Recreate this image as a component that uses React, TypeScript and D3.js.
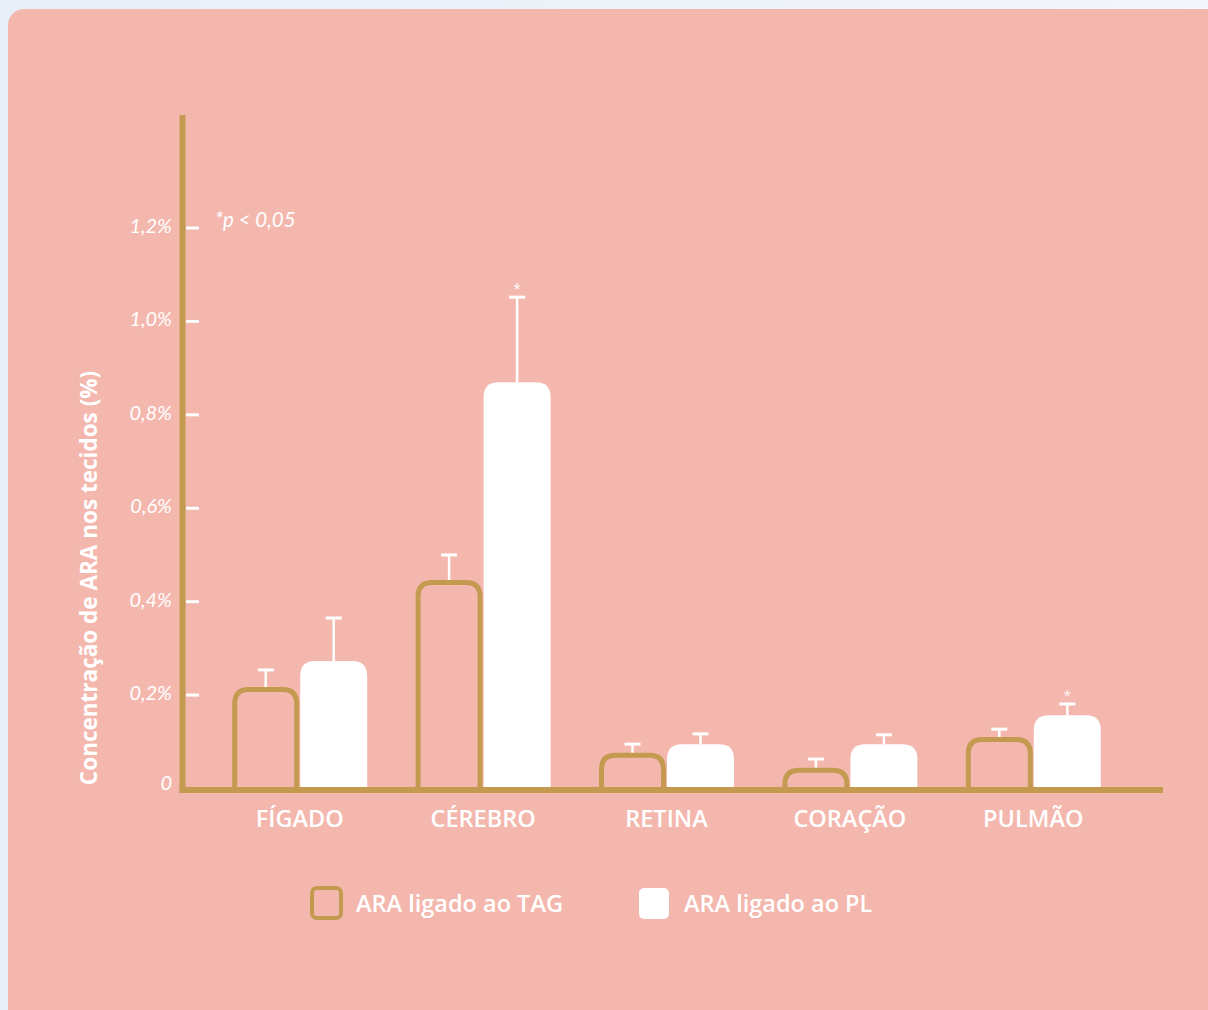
import React from "react";
import * as d3 from "d3";

const categories = ["FÍGADO", "CÉREBRO", "RETINA", "CORAÇÃO", "PULMÃO"];
const tagValues = [0.212, 0.441, 0.071, 0.039, 0.105];
const tagErrors = [0.254, 0.5, 0.095, 0.063, 0.127];
const plValues = [0.273, 0.87, 0.095, 0.095, 0.157];
const plErrors = [0.365, 1.052, 0.117, 0.115, 0.181];
const plSignificant = [false, true, false, false, true];
const yTicks = [0, 0.2, 0.4, 0.6, 0.8, 1.0, 1.2];
const yTickLabels = ["0", "0,2%", "0,4%", "0,6%", "0,8%", "1,0%", "1,2%"];
const seriesNames = ["ARA ligado ao TAG", "ARA ligado ao PL"];
const yTitle = "Concentração de ARA nos tecidos (%)";
const note = "*p < 0,05";

const PINK = "#f4b7ae";
const GOLD = "#c49a50";
const WHITE = "#ffffff";

function topRoundedPath(x: number, y: number, w: number, h: number, r: number) {
  const rr = Math.min(r, w / 2, h);
  return `M${x},${y + h} L${x},${y + rr} Q${x},${y} ${x + rr},${y} L${x + w - rr},${y} Q${x + w},${y} ${x + w},${y + rr} L${x + w},${y + h}`;
}

export default function App() {
  const W = 1208, H = 1010;
  const y = d3.scaleLinear().domain([0, 1.2]).range([788.5, 228]);
  const x = d3.scaleBand().domain(categories).range([208, 1125]).paddingInner(0).paddingOuter(0);
  const barW = 67;
  const font = "'Open Sans', 'Noto Sans', sans-serif";
  const lightFont = "Lato, 'Open Sans', sans-serif";

  return (
    <svg width={W} height={H} style={{ position: "absolute", left: 0, top: 0 }}>
      <defs>
        <linearGradient id="pagebg" x1="0" x2="1" y1="0" y2="0">
          <stop offset="0" stopColor="#e8eff8" />
          <stop offset="1" stopColor="#f2f5fa" />
        </linearGradient>
      </defs>
      <rect x={0} y={0} width={W} height={H} fill="url(#pagebg)" />
      <rect x={8} y={9} width={W + 40} height={H + 40} rx={16} fill={PINK} />

      {/* y ticks */}
      {yTicks.map((t, i) => (
        <g key={i}>
          {i > 0 && <line x1={186} x2={199} y1={y(t)} y2={y(t)} stroke={WHITE} strokeWidth={3} />}
          <text x={172} y={y(t) + (i === 0 ? 1.5 : 5)} textAnchor="end" fill={WHITE} fontFamily={lightFont} fontStyle="italic" fontWeight={400} fontSize={20}>
            {yTickLabels[i]}
          </text>
        </g>
      ))}

      <text x={215} y={227} fill={WHITE} fontFamily={lightFont} fontStyle="italic" fontWeight={400} fontSize={20.5}>
        {note}
      </text>

      <text transform={`translate(97,578) rotate(-90)`} textAnchor="middle" fill={WHITE} fontFamily={font} fontWeight={700} fontSize={22.5}>
        {yTitle}
      </text>

      {/* bars */}
      {categories.map((c, i) => {
        const cx = (x(c) as number) + x.bandwidth() / 2;
        const tagX = cx - barW - 0.5 + 2.5;
        const plX = cx + 0.5;
        const tagTop = y(tagValues[i]);
        const plTop = y(plValues[i]);
        const tagC = tagX + (barW - 5) / 2;
        const plC = plX + barW / 2;
        return (
          <g key={c}>
            <line x1={tagC} x2={tagC} y1={y(tagErrors[i])} y2={tagTop} stroke={WHITE} strokeWidth={2.5} />
            <line x1={tagC - 8} x2={tagC + 8} y1={y(tagErrors[i])} y2={y(tagErrors[i])} stroke={WHITE} strokeWidth={3} />
            <line x1={plC} x2={plC} y1={y(plErrors[i])} y2={plTop} stroke={WHITE} strokeWidth={2.5} />
            <line x1={plC - 8} x2={plC + 8} y1={y(plErrors[i])} y2={y(plErrors[i])} stroke={WHITE} strokeWidth={3} />
            {plSignificant[i] && (
              <text x={plC} y={y(plErrors[i]) - 3} textAnchor="middle" fill={WHITE} fontFamily={font} fontSize={14} opacity={0.9}>
                *
              </text>
            )}
            <path d={topRoundedPath(plX, plTop, barW, y(0) - plTop + 1, 15)} fill={WHITE} />
            <path d={topRoundedPath(tagX, tagTop, barW - 5, y(0) - tagTop + 1, 14)} fill="none" stroke={GOLD} strokeWidth={5} />
            <text x={cx} y={827} textAnchor="middle" fill={WHITE} fontFamily={font} fontWeight={600} fontSize={23.5}>
              {c}
            </text>
          </g>
        );
      })}

      {/* axes */}
      <line x1={182.5} x2={182.5} y1={115} y2={793} stroke={GOLD} strokeWidth={6} />
      <line x1={179.5} x2={1163} y1={790} y2={790} stroke={GOLD} strokeWidth={6} />

      {/* legend */}
      <rect x={312} y={888} width={29} height={30} rx={5} fill="none" stroke={GOLD} strokeWidth={4} />
      <text x={356} y={912} fill={WHITE} fontFamily={font} fontWeight={600} fontSize={23.5}>
        {seriesNames[0]}
      </text>
      <rect x={639} y={888} width={30} height={31} rx={5} fill={WHITE} />
      <text x={684} y={912} fill={WHITE} fontFamily={font} fontWeight={600} fontSize={23.5}>
        {seriesNames[1]}
      </text>
    </svg>
  );
}
